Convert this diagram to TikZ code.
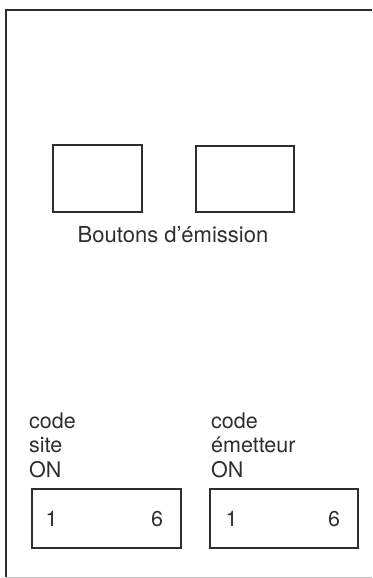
\documentclass[tikz,border=0pt]{standalone}
\usepackage{fontspec}
\setmainfont{TeX Gyre Heros}
\definecolor{ink}{HTML}{2E2E2E}
\begin{document}
\begin{tikzpicture}[x=1pt,y=-1pt,
  boxstyle/.style={draw=ink,line width=1.6pt,inner sep=0pt,minimum width=#1},
  lbl/.style={anchor=base west,inner sep=0pt,text=ink,font=\fontsize{21.5}{24}\selectfont},
  digit/.style={anchor=base west,inner sep=0pt,text=ink,font=\fontsize{21.5}{24}\selectfont}]
\useasboundingbox (0,0) rectangle (372,578);
% outer frame
\coordinate (tr) at (372,10);
\coordinate (tl) at (6,10);
\coordinate (bl) at (6,577);
\coordinate (br) at (372,577);
\draw[ink,line width=1.8pt] (tr) -- (tl) -- (bl);
\draw[black!25,line width=0.8pt] (bl) -- (br);
% buttons
\node[boxstyle=89pt,minimum height=67pt] (b1) at (97.5,178.5) {};
\node[boxstyle=98pt,minimum height=66pt] (b2) at (245,179) {};
\node[anchor=base,inner sep=0pt,text=ink,font=\fontsize{22}{26}\selectfont] (bt) at (173,242) {Boutons d’émission};
% codes labels
\node[lbl] (c1) at (29,428) {code};
\node[lbl] (s1) at (29,452.5) {site};
\node[lbl] (o1) at (29,477) {ON};
\node[lbl] (c2) at (211,428) {code};
\node[lbl] (e2) at (211,452.5) {émetteur};
\node[lbl] (o2) at (211,477) {ON};
% dip switches
\node[boxstyle=149pt,minimum height=59pt] (d1) at (106.5,518.5) {};
\node[boxstyle=148pt,minimum height=59pt] (d2) at (284,518.5) {};
\node[digit] (d1a) at (45.5,526) {1};
\node[digit] (d1b) at (151,526) {6};
\node[digit] (d2a) at (225.5,526) {1};
\node[digit] (d2b) at (328,526) {6};
\end{tikzpicture}
\end{document}
